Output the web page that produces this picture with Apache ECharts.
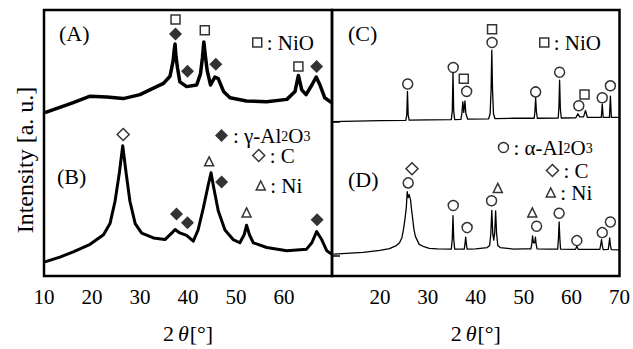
<!DOCTYPE html>
<html>
<head>
<meta charset="utf-8">
<script src="https://cdn.jsdelivr.net/npm/echarts@6/dist/echarts.min.js"></script>
<style>
html, body { margin: 0; padding: 0; background: #fff; }
#chart { width: 633px; height: 349px; }
</style>
</head>
<body>
<div id="chart"></div>
<script>
// 2θ axis range, step 10
const xRange = [10, 70];

// (A) left top pattern, noisy
const patternA = [[10.2,61.4],[13.3,63.4],[16.1,65.2],[19.6,67.6],[23.1,67.3],[26.5,66.7],[30.0,68.2],[32.8,70.6],[34.9,72.4],[36.25,75.1],[36.9,80.9],[37.1,84.5],[37.3,87.2],[37.5,82.5],[37.8,78.4],[38.3,73.0],[39.7,71.2],[41.8,71.8],[42.6,76.0],[43.0,82.0],[43.3,88.0],[43.6,83.0],[44.0,77.2],[44.7,71.8],[45.6,74.8],[46.3,74.2],[47.4,69.4],[48.75,67.0],[52.2,65.8],[56.4,65.5],[60.6,66.4],[62.3,69.4],[63.0,75.4],[63.7,70.0],[64.6,68.2],[65.8,71.8],[66.7,74.8],[67.5,71.8],[68.5,67.0],[69.9,65.2]];
// (B) left bottom pattern
const patternB = [[10.2,5.3],[13.3,7.1],[16.1,9.1],[19.6,11.9],[22.4,15.5],[23.75,19.7],[24.8,28.1],[25.7,38.8],[26.4,49.0],[27.1,38.8],[27.9,28.1],[29.0,19.7],[30.35,16.1],[32.8,14.3],[35.2,13.7],[36.6,16.1],[37.3,17.5],[38.3,16.2],[39.7,15.3],[41.1,13.1],[42.1,17.3],[43.2,25.6],[44.2,34.1],[44.8,38.8],[45.4,32.8],[46.3,24.5],[47.7,17.3],[49.4,13.7],[50.8,12.5],[51.7,15.5],[52.2,19.1],[52.8,15.5],[53.6,12.5],[56.4,10.7],[60.6,9.5],[64.7,10.1],[65.8,12.5],[66.8,16.7],[67.85,13.7],[68.9,9.5],[69.9,8.3]];
// (C) right top pattern
const patternC = [[10.2,58.0],[15,58.2],[20,58.4],[25.4,58.5],[25.6,60.5],[25.75,69.4],[25.9,60.5],[26.1,58.6],[30,58.7],[34.9,58.8],[35.1,62],[35.25,76.6],[35.4,62],[35.6,58.8],[36.9,58.9],[37.1,61],[37.3,65.5],[37.5,61.5],[37.75,65.8],[37.95,61],[38.3,59],[42.7,59.1],[43.0,61],[43.2,70],[43.35,84.9],[43.5,70],[43.7,61],[44.0,59.2],[48,59.3],[52.2,59.3],[52.35,62],[52.5,67.0],[52.65,62],[52.85,59.3],[57.2,59.4],[57.35,63],[57.5,73.6],[57.65,63],[57.85,59.4],[60.9,59.5],[61.3,61.0],[61.7,59.8],[62.5,59.8],[62.9,62.2],[63.3,59.6],[66.2,59.6],[66.4,64.6],[66.6,59.6],[67.9,59.6],[68.1,67.6],[68.3,59.6],[69.9,59.6]];
// (D) right bottom pattern
const patternD = [[10.3,8.2],[13,8.5],[16.5,8.9],[20,9.6],[22,10.3],[23.3,11.3],[24.1,12.5],[24.6,14.5],[24.9,17.3],[25.2,21],[25.5,25.6],[25.7,31.7],[25.9,29.5],[26.1,30.6],[26.4,28.5],[26.6,25],[26.8,22.1],[27.1,17.5],[27.4,14.9],[28.2,11.9],[29.2,11],[30.3,10.4],[32,10.2],[34.9,10.1],[35.1,14],[35.25,22.7],[35.4,14],[35.6,10.1],[37.6,10.1],[37.75,12],[37.9,14.6],[38.05,12],[38.2,10.1],[40,10.2],[42.4,10.7],[42.9,11.5],[43.15,16],[43.35,24.7],[43.55,16],[43.75,13.5],[43.95,16],[44.15,24.5],[44.35,16],[44.6,11.5],[45.1,10.7],[47.9,10.1],[50,10.2],[51.5,10.2],[51.7,12],[51.85,15.1],[52.05,12.5],[52.3,12.5],[52.45,14.6],[52.6,12],[52.8,10.2],[55,10.1],[57.1,10.1],[57.25,14],[57.4,20.3],[57.55,14],[57.7,10.1],[60.8,10],[61.1,11.2],[61.4,10],[65.9,10],[66.1,12],[66.25,13.7],[66.4,11.5],[66.6,9.9],[67.65,10],[67.8,12],[67.95,14.3],[68.1,11.5],[68.3,9.9],[69.9,9.8]];

// peak markers, left panel
const nioA = [[37.4,96.4],[43.5,92.4],[63.0,78.8]];
const gammaA = [[37.4,91.0],[39.9,77.0],[45.8,79.6],[66.8,78.8]];
const carbonB = [[26.5,53.2]];
const nickelB = [[44.4,43.1],[52.2,23.9]];
const gammaB = [[37.6,23.3],[39.9,20.0],[47.0,35.3],[66.9,21.1]];
// peak markers, right panel
const nioC = [[37.5,74.2],[43.4,92.8],[62.7,68.2]];
const alphaC = [[25.8,72.2],[35.3,78.4],[38.1,69.4],[43.4,87.8],[52.5,69.2],[57.5,76.6],[61.5,64.0],[66.4,67.0],[68.1,71.5]];
const carbonD = [[26.7,40.3]];
const nickelD = [[44.6,33.1],[51.8,23.9]];
const alphaD = [[25.9,35.0],[35.3,26.5],[38.2,18.2],[43.3,28.3],[52.7,18.7],[57.4,23.6],[61.1,13.3],[66.4,16.3],[68.1,20.3]];

// baseline ticks on the inner axis
const baseTicks = [58.0, 7.7];

const FONT = 'Liberation Serif';
const subRich = {
	t: { fontFamily: FONT, fontSize: 21, lineHeight: 16, color: '#000' },
	s: { fontFamily: FONT, fontSize: 14, lineHeight: 3, verticalAlign: 'bottom', color: '#000' }
};

const chart = echarts.init(document.getElementById('chart'), null, { renderer: 'svg' });

function xAxisFor(grid, hideMin) {
	return {
		type: 'value', gridIndex: grid, min: xRange[0], max: xRange[1], interval: 10,
		axisLine: { show: false }, axisTick: { show: false }, splitLine: { show: false },
		axisLabel: {
			fontFamily: FONT, fontSize: 21, color: '#000', margin: 10,
			showMinLabel: !hideMin, showMaxLabel: hideMin
		},
		name: '{n|2}{i|θ}{n|[°]}', nameLocation: 'middle', nameGap: 46,
		nameTextStyle: {
			rich: {
				n: { fontFamily: FONT, fontSize: 22, color: '#000' },
				i: { fontFamily: FONT, fontSize: 22, fontStyle: 'italic', color: '#000', padding: [0, 1, 0, 4] }
			}
		}
	};
}

function yAxisFor(grid) {
	const axis = {
		type: 'value', gridIndex: grid, min: 0, max: 100,
		axisLine: { show: false }, axisLabel: { show: false }, splitLine: { show: false },
		axisTick: { show: false }
	};
	if (grid === 0) {
		axis.name = 'Intensity [a. u.]';
		axis.nameLocation = 'middle';
		axis.nameGap = 7;
		// nudged a little toward the bottom, like the source figure
		axis.nameTextStyle = { fontFamily: FONT, fontSize: 24, color: '#000', padding: [0, 34, 0, 0] };
	} else {
		axis.axisTick = { show: true, inside: true, length: 8, customValues: baseTicks, lineStyle: { color: '#000', width: 1.5 } };
	}
	return axis;
}

function curve(name, data, grid, width) {
	return {
		name: name, type: 'line', data: data, xAxisIndex: grid, yAxisIndex: grid,
		showSymbol: false, symbol: 'none', smooth: false, silent: true, z: 2,
		lineStyle: { color: '#000', width: width, join: 'round' }
	};
}

function marks(name, data, grid, symbol, size, filled) {
	return {
		name: name, type: 'scatter', data: data, xAxisIndex: grid, yAxisIndex: grid,
		symbol: symbol, symbolSize: size, silent: true, z: 3,
		itemStyle: filled ? { color: '#000' } : { color: '#fff', borderColor: '#000', borderWidth: 1.5 }
	};
}

function legendAt(name, left, top, icon, size, filled, text) {
	return {
		data: [name], left: left, top: top, padding: 0, itemGap: 0, selectedMode: false,
		icon: icon, itemWidth: size, itemHeight: size,
		itemStyle: filled ? { color: '#000', borderWidth: 0 } : { color: '#fff', borderColor: '#000', borderWidth: 1.5 },
		formatter: function () { return text; },
		textStyle: { fontFamily: FONT, fontSize: 21, lineHeight: 16, color: '#000', rich: subRich }
	};
}

function panelLabel(text, left, top) {
	return {
		text: text, left: left, top: top, padding: 0,
		textStyle: { fontFamily: FONT, fontSize: 22, fontWeight: 'normal', color: '#000' }
	};
}

chart.setOption({
	animation: false,
	backgroundColor: '#fff',
	grid: [
		{ left: 44, top: 10, width: 288, height: 278, show: true, borderColor: '#000', borderWidth: 2.5, backgroundColor: 'transparent' },
		{ left: 332, top: 10, width: 290, height: 278, show: true, borderColor: '#000', borderWidth: 2.5, backgroundColor: 'transparent' }
	],
	xAxis: [xAxisFor(0, false), xAxisFor(1, true)],
	yAxis: [yAxisFor(0), yAxisFor(1)],
	title: [
		panelLabel('(A)', 59, 22),
		panelLabel('(B)', 57, 165),
		panelLabel('(C)', 348, 22),
		panelLabel('(D)', 348, 168)
	],
	legend: [
		legendAt('NiO', 252, 32, 'rect', 9, false, ': NiO'),
		legendAt('γ-Al2O3', 215, 125, 'diamond', 13, true, '{t|: γ-Al}{s|2}{t|O}{s|3}'),
		legendAt('C', 252, 145, 'diamond', 12, false, ': C'),
		legendAt('Ni', 255.5, 175, 'triangle', 9, false, ': Ni'),
		legendAt('NiO', 539, 32, 'rect', 9, false, ': NiO'),
		legendAt('α-Al2O3', 497.7, 137, 'circle', 10, false, '{t|: α-Al}{s|2}{t|O}{s|3}'),
		legendAt('C', 545.7, 160, 'diamond', 12, false, ': C'),
		legendAt('Ni', 545.5, 182, 'triangle', 9, false, ': Ni')
	],
	series: [
		curve('pattern A', patternA, 0, 3.5),
		curve('pattern B', patternB, 0, 3),
		curve('pattern C', patternC, 1, 1.3),
		curve('pattern D', patternD, 1, 1.3),
		marks('NiO', nioA, 0, 'rect', 9, false),
		marks('γ-Al2O3', gammaA, 0, 'diamond', 13, true),
		marks('C', carbonB, 0, 'diamond', 12, false),
		marks('Ni', nickelB, 0, 'triangle', 9, false),
		marks('γ-Al2O3', gammaB, 0, 'diamond', 13, true),
		marks('NiO', nioC, 1, 'rect', 9, false),
		marks('α-Al2O3', alphaC, 1, 'circle', 10, false),
		marks('C', carbonD, 1, 'diamond', 12, false),
		marks('Ni', nickelD, 1, 'triangle', 9, false),
		marks('α-Al2O3', alphaD, 1, 'circle', 10, false)
	]
});
</script>
</body>
</html>
